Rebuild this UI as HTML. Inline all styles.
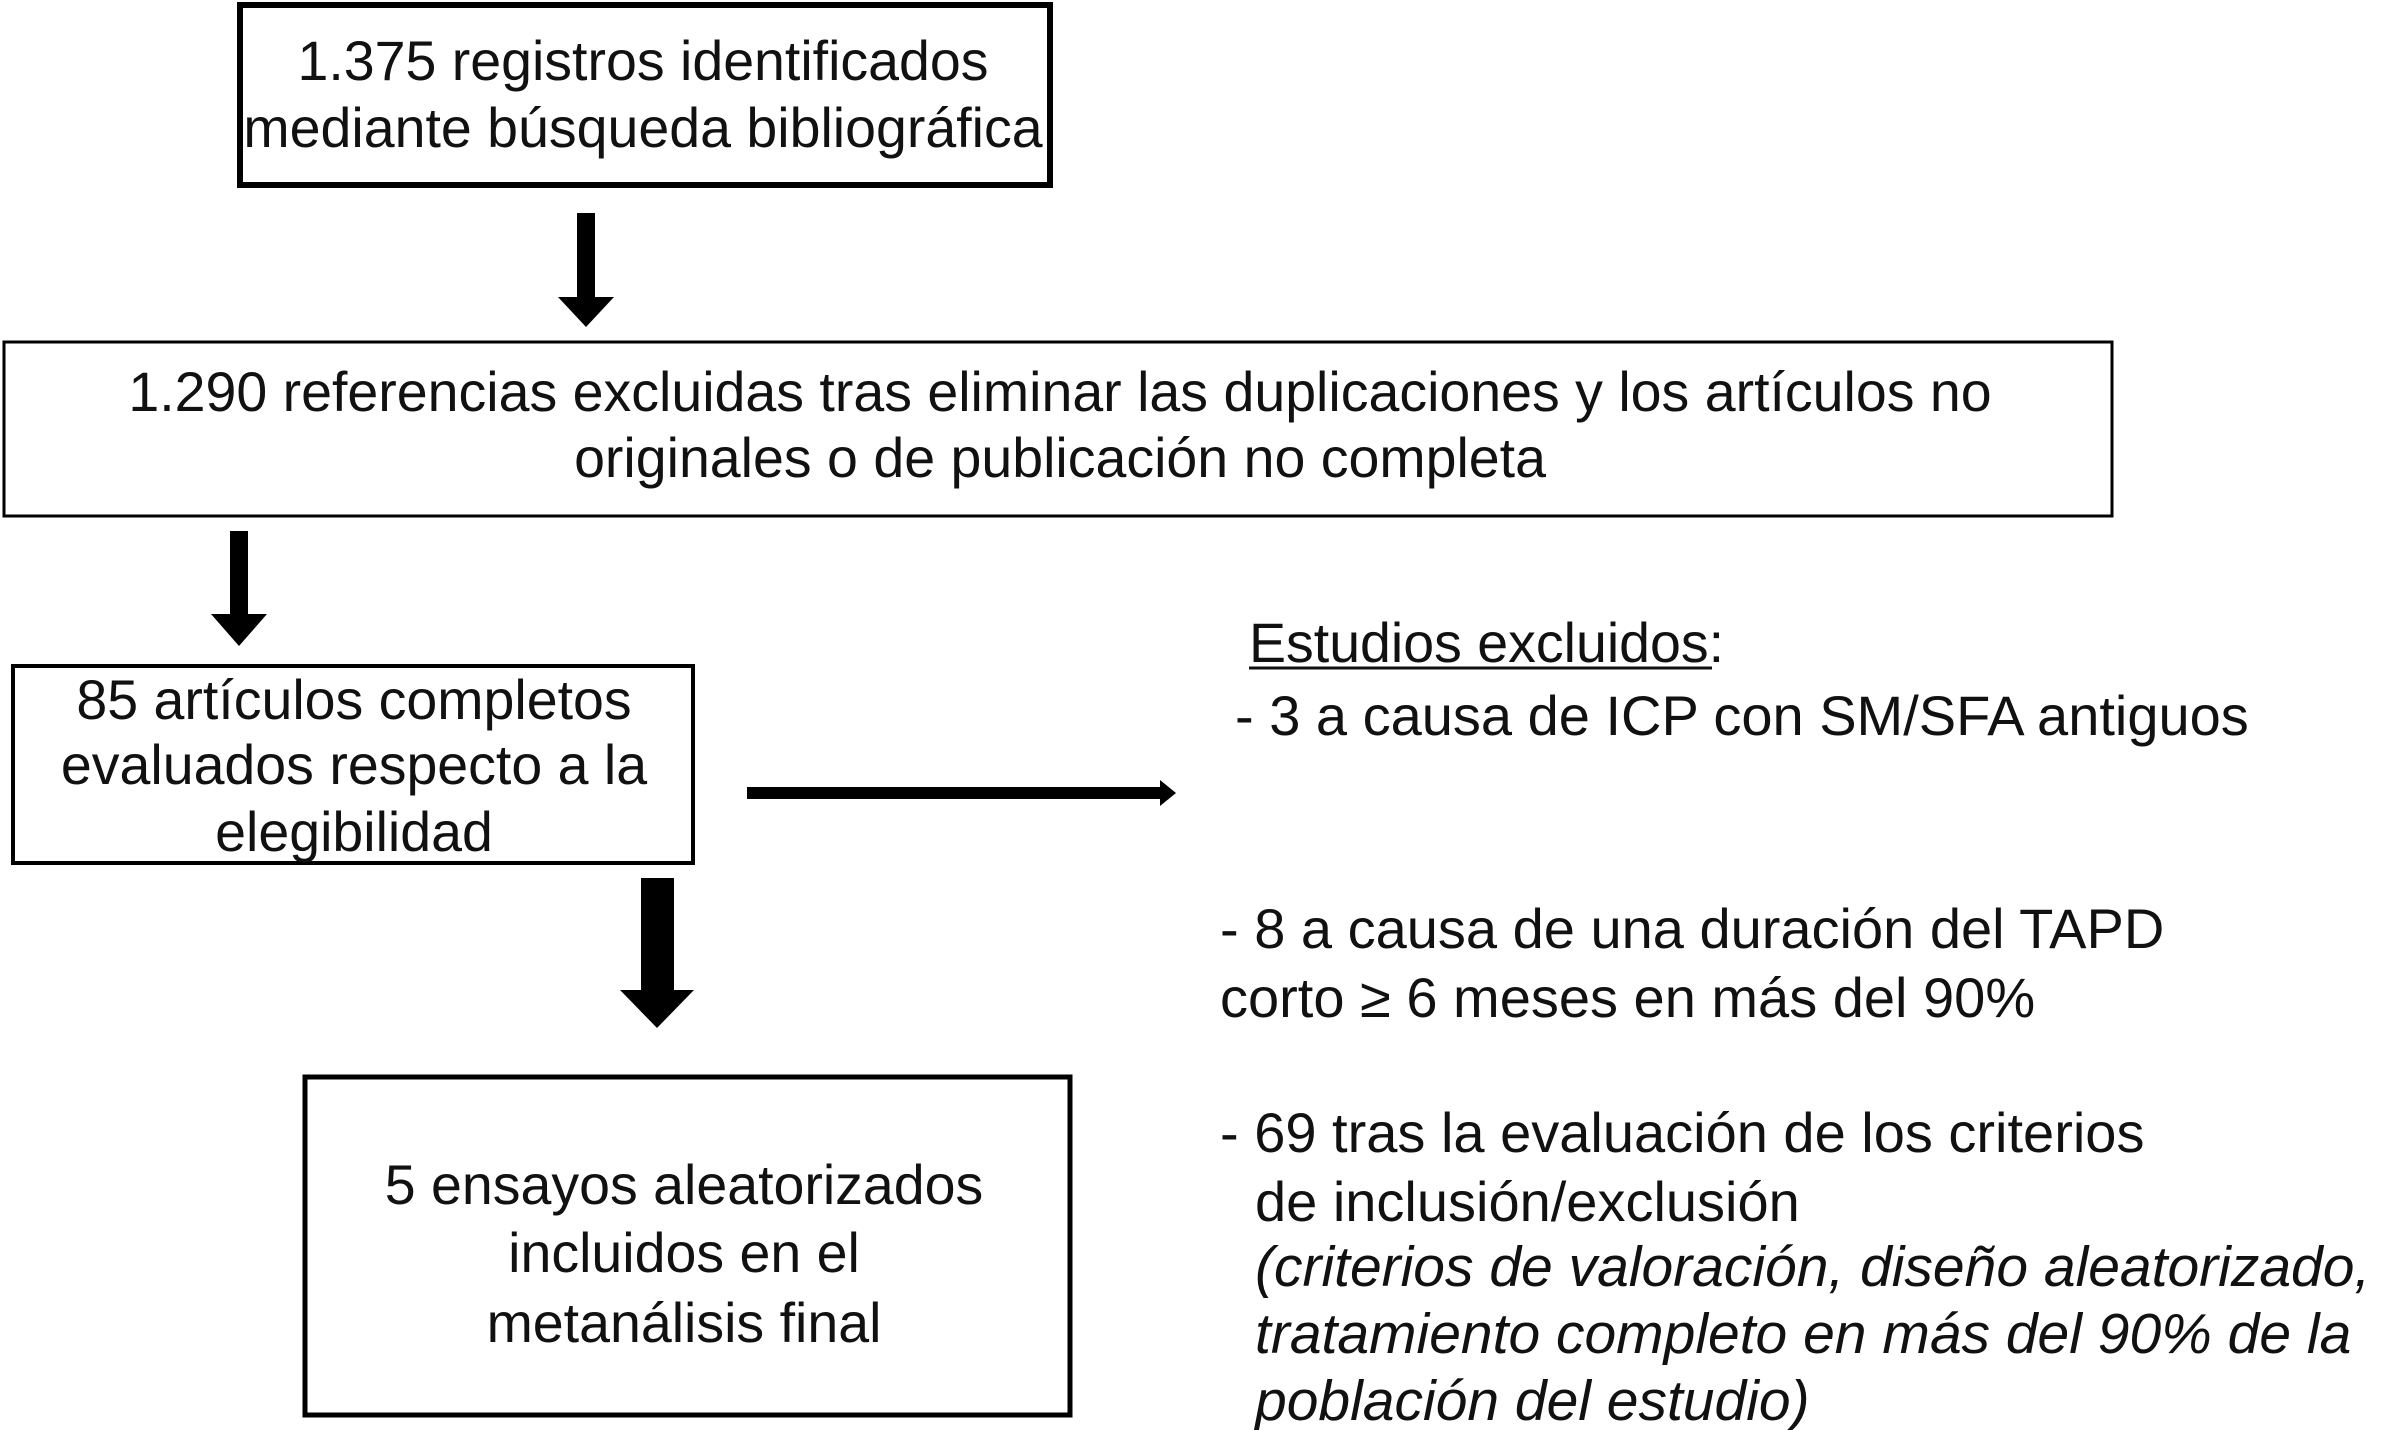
<!DOCTYPE html>
<html><head><meta charset="utf-8"><style>
html,body{margin:0;padding:0;background:#fff;}
svg{display:block;}
text{font-family:"Liberation Sans",Arial,sans-serif;font-size:55.5px;fill:#111;}
</style></head><body>
<svg width="2384" height="1430" viewBox="0 0 2384 1430" xmlns="http://www.w3.org/2000/svg">
<rect x="240" y="5" width="810" height="180" fill="none" stroke="#000" stroke-width="6"/>
<text x="643" y="80" text-anchor="middle">1.375 registros identificados</text>
<text x="643" y="147" text-anchor="middle">mediante búsqueda bibliográfica</text>
<polygon points="577,213 595,213 595,297 614,297 586,327 558,297 577,297" fill="#000"/>
<rect x="4" y="342" width="2108" height="174" fill="none" stroke="#000" stroke-width="3"/>
<text x="1060" y="411" text-anchor="middle">1.290 referencias excluidas tras eliminar las duplicaciones y los artículos no</text>
<text x="1060" y="477" text-anchor="middle">originales o de publicación no completa</text>
<polygon points="230,531 248,531 248,614 267,614 239,646 211,614 230,614" fill="#000"/>
<rect x="13" y="666" width="680" height="197" fill="none" stroke="#000" stroke-width="4"/>
<text x="354" y="719" text-anchor="middle">85 artículos completos</text>
<text x="354" y="784" text-anchor="middle">evaluados respecto a la</text>
<text x="354" y="851" text-anchor="middle">elegibilidad</text>
<polygon points="747,787 1160,787 1160,780 1176,793 1160,806 1160,799 747,799" fill="#000"/>
<polygon points="641,878 674,878 674,990 694,990 657,1028 620,990 641,990" fill="#000"/>
<rect x="305" y="1077" width="765" height="338" fill="none" stroke="#000" stroke-width="5"/>
<text x="684" y="1204" text-anchor="middle">5 ensayos aleatorizados</text>
<text x="684" y="1272" text-anchor="middle">incluidos en el</text>
<text x="684" y="1342" text-anchor="middle">metanálisis final</text>
<text x="1249" y="662">Estudios excluidos:</text>
<line x1="1249" y1="668" x2="1712" y2="668" stroke="#111" stroke-width="3"/>
<text x="1235" y="735" style="font-size:56px">- 3 a causa de ICP con SM/SFA antiguos</text>
<text x="1220" y="948" style="font-size:56px">- 8 a causa de una duración del TAPD</text>
<text x="1220" y="1017" style="font-size:56px">corto ≥ 6 meses en más del 90%</text>
<text x="1220" y="1152" style="font-size:56px">- 69 tras la evaluación de los criterios</text>
<text x="1255" y="1221" style="font-size:56px">de inclusión/exclusión</text>
<text x="1255" y="1286" font-style="italic" style="font-size:57px">(criterios de valoración, diseño aleatorizado,</text>
<text x="1255" y="1353" font-style="italic" style="font-size:57px">tratamiento completo en más del 90% de la</text>
<text x="1255" y="1420" font-style="italic" style="font-size:57px">población del estudio)</text>
</svg>
</body></html>
